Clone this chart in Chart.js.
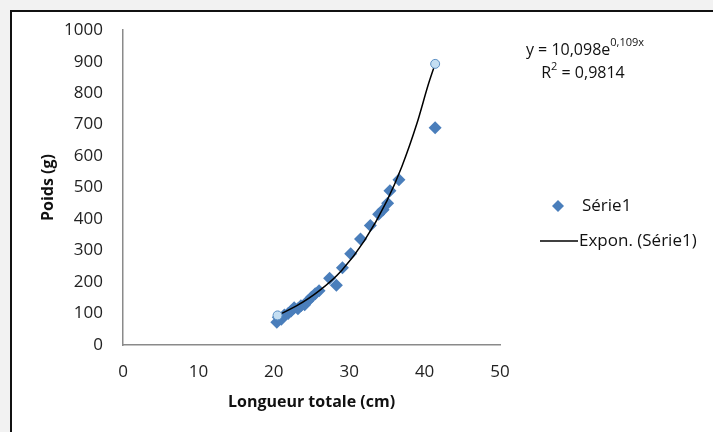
<!DOCTYPE html>
<html>
<head>
<meta charset="utf-8">
<script src="https://cdn.jsdelivr.net/npm/chart.js@4.4.1/dist/chart.umd.min.js"></script>
<style>
  html, body { margin: 0; padding: 0; background: #f2f2f2; overflow: hidden; }
  #frame {
    position: absolute; left: 10px; top: 10px; width: 720px; height: 440px;
    background: #fff; border: 2.5px solid #111; box-sizing: border-box;
  }
  #wrap { position: absolute; left: 0; top: 0; width: 713px; height: 432px; }
</style>
</head>
<body>
<div id="frame"></div>
<div id="wrap"><canvas id="chart" width="713" height="432"></canvas></div>
<script>
const longueurs = [20.4, 20.6, 21.0, 21.4, 21.9, 22.3, 22.7, 23.2, 23.6, 24.1, 24.5, 25.0, 25.5,
  26.0, 27.4, 28.3, 29.1, 30.2, 31.5, 32.8, 33.9, 34.5, 35.1, 35.4, 36.6, 41.4];
const poids = [72, 88, 82, 95, 100, 108, 118, 115, 125, 128, 140, 152, 163,
  172, 212, 190, 245, 290, 337, 380, 415, 430, 450, 490, 525, 690];

// courbe de tendance exponentielle
const tendanceX = [20.5, 23, 26, 29, 32, 35, 37, 39, 40.5, 41.4];
const tendanceY = [94, 124, 172, 237, 331, 458, 568, 705, 828, 893];
const tendanceMarqueurs = [4.5, 0, 0, 0, 0, 0, 0, 0, 0, 4.5];

const xTicks = [0, 10, 20, 30, 40, 50];
const yTicks = [0, 100, 200, 300, 400, 500, 600, 700, 800, 900, 1000];

const equation = ["y = 10,098e", "0,109x"];
const r2 = ["R", "2", " = 0,9814"];
const legendLabels = ["Série1", "Expon. (Série1)"];

const FONT = "'Open Sans', 'Noto Sans', sans-serif";
const BLEU = "#4a7ebb";

const pts = (xs, ys) => xs.map((x, i) => ({ x: x, y: ys[i] }));

// equation + legende
const annotations = {
  id: "annotations",
  afterDraw(chart) {
    const ctx = chart.ctx;
    ctx.save();
    ctx.fillStyle = "#111";
    ctx.textBaseline = "middle";

    // y = 10,098e^0,109x
    ctx.font = "16px " + FONT;
    const w1 = ctx.measureText(equation[0]).width;
    ctx.font = "11px " + FONT;
    const w2 = ctx.measureText(equation[1]).width;
    let x = 585 - (w1 + w2) / 2;
    ctx.font = "16px " + FONT;
    ctx.textAlign = "left";
    ctx.fillText(equation[0], x, 50);
    ctx.font = "11px " + FONT;
    ctx.fillText(equation[1], x + w1, 43);

    // R² = 0,9814
    ctx.font = "16px " + FONT;
    const a = ctx.measureText(r2[0]).width;
    const c = ctx.measureText(r2[2]).width;
    ctx.font = "11px " + FONT;
    const b = ctx.measureText(r2[1]).width;
    x = 583 - (a + b + c) / 2;
    ctx.font = "16px " + FONT;
    ctx.fillText(r2[0], x, 73);
    ctx.font = "11px " + FONT;
    ctx.fillText(r2[1], x + a, 67);
    ctx.font = "16px " + FONT;
    ctx.fillText(r2[2], x + a + b, 73);

    // legende
    const d0 = chart.data.datasets[0];
    const d1 = chart.data.datasets[1];
    ctx.font = "17px " + FONT;
    ctx.beginPath();
    ctx.moveTo(558, 200);
    ctx.lineTo(564, 206);
    ctx.lineTo(558, 212);
    ctx.lineTo(552, 206);
    ctx.closePath();
    ctx.fillStyle = d0.backgroundColor;
    ctx.fill();
    ctx.fillStyle = "#111";
    ctx.fillText(legendLabels[0], 582, 206);

    ctx.strokeStyle = d1.borderColor;
    ctx.lineWidth = 1.5;
    ctx.beginPath();
    ctx.moveTo(540, 241);
    ctx.lineTo(578, 241);
    ctx.stroke();
    ctx.fillText(legendLabels[1], 579, 241);
    ctx.restore();
  }
};

new Chart(document.getElementById("chart"), {
  type: "scatter",
  data: {
    datasets: [
      {
        label: legendLabels[0],
        data: pts(longueurs, poids),
        pointStyle: "rectRot",
        pointRadius: 6.5,
        backgroundColor: BLEU,
        borderColor: BLEU,
        borderWidth: 0,
        order: 2
      },
      {
        label: legendLabels[1],
        type: "line",
        data: pts(tendanceX, tendanceY),
        borderColor: "#000",
        borderWidth: 1.5,
        cubicInterpolationMode: "monotone",
        pointRadius: tendanceMarqueurs,
        pointBackgroundColor: "#c4def2",
        pointBorderColor: "#5b8fc4",
        pointBorderWidth: 1,
        order: 1
      }
    ]
  },
  options: {
    responsive: false,
    animation: false,
    events: [],
    layout: { padding: { left: 10, right: 213, top: 30, bottom: 20 } },
    plugins: { legend: { display: false }, tooltip: { enabled: false } },
    scales: {
      x: {
        type: "linear",
        min: 0,
        max: 50,
        afterFit: (s) => { s.height = 67; },
        afterBuildTicks: (s) => { s.ticks = xTicks.map((v) => ({ value: v })); },
        grid: { display: false, drawTicks: false },
        border: { display: true, color: "#8a8a8a", width: 1.5 },
        ticks: {
          padding: 17, color: "#222", font: { family: FONT, size: 17 },
          callback: (v) => String(v)
        },
        title: {
          display: true,
          text: "Longueur totale (cm)",
          color: "#111",
          padding: { top: 0, bottom: 0 },
          font: { family: FONT, size: 16, weight: "bold" }
        }
      },
      y: {
        min: 0,
        max: 1000,
        afterFit: (s) => { s.width = 113; },
        afterBuildTicks: (s) => { s.ticks = yTicks.map((v) => ({ value: v })); },
        grid: { display: false, drawTicks: false },
        border: { display: true, color: "#8a8a8a", width: 1.5 },
        ticks: {
          padding: 20, color: "#222", font: { family: FONT, size: 17 },
          callback: (v) => String(v)
        },
        title: {
          display: true,
          text: "Poids (g)",
          color: "#111",
          padding: { top: 29, bottom: 0 },
          font: { family: FONT, size: 16, weight: "bold" }
        }
      }
    }
  },
  plugins: [annotations]
});
</script>
</body>
</html>
